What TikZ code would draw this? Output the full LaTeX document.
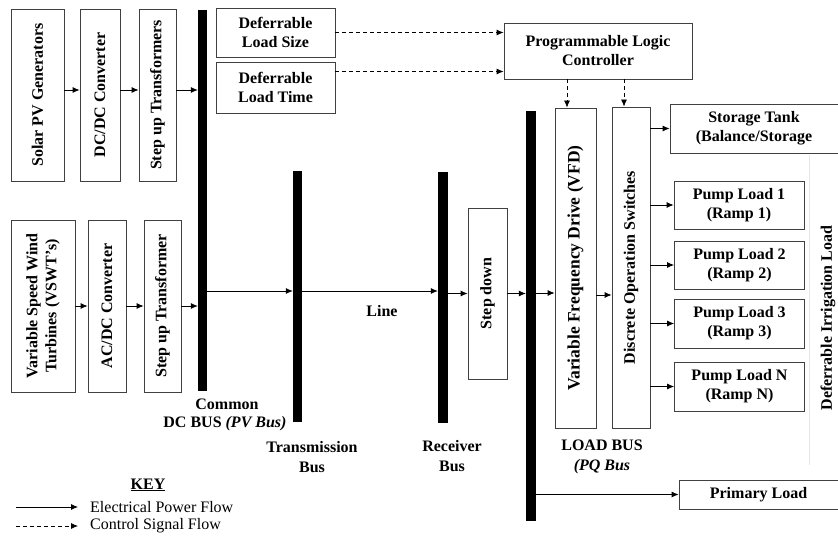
\documentclass[tikz,border=0pt]{standalone}
\usepackage{fontspec}
\setmainfont{Liberation Serif}
\usetikzlibrary{arrows.meta,calc}
\begin{document}
\begin{tikzpicture}[x=1pt,y=-1pt,
 box/.style={draw=black!75,line width=0.8pt,inner sep=0pt,align=center,font=\fontsize{16}{19}\selectfont\bfseries},
 bus/.style={fill=black,draw=none,inner sep=0pt,minimum width=9.5pt},
 pf/.style={-{Latex[length=7pt,width=6pt]},line width=0.8pt},
 cf/.style={pf,dash pattern=on 4pt off 3pt},
 lbl/.style={font=\fontsize{16}{20}\selectfont\bfseries,align=center,inner sep=0pt},
 keytxt/.style={font=\fontsize{16}{19}\selectfont,anchor=west,inner sep=0pt}]
\useasboundingbox (0,0) rectangle (838,537);

% faint guide line
\draw[black!10,line width=0.8pt] (809,155) -- (809,465);

% generation side
\node[box,minimum width=53pt,minimum height=172pt] (solar) at (37.5,95) {\rotatebox{90}{Solar PV Generators}};
\node[box,minimum width=40pt,minimum height=172pt] (dcdc) at (100,95) {\rotatebox{90}{DC/DC Converter}};
\node[box,minimum width=37pt,minimum height=172pt] (stt1) at (157.5,95) {\rotatebox{90}{Step up Transformers}};
\node[box,minimum width=64pt,minimum height=172pt] (wind) at (43,306) {\rotatebox{90}{\begin{tabular}{@{}c@{}}Variable Speed Wind\\Turbines (VSWT's)\end{tabular}}};
\node[box,minimum width=38pt,minimum height=172pt] (acdc) at (107,306) {\rotatebox{90}{AC/DC Converter}};
\node[box,minimum width=37pt,minimum height=172pt] (stt2) at (162.5,306) {\rotatebox{90}{Step up Transformer}};

% buses
\node[bus,minimum width=9pt,minimum height=381pt] (dcbus) at (202.5,200.5) {};
\node[bus,minimum width=9pt,minimum height=251pt] (tbus) at (297.5,296.5) {};
\node[bus,minimum width=10pt,minimum height=251pt] (rbus) at (443,297.5) {};
\node[bus,minimum width=10pt,minimum height=410pt] (lbus) at (531,316) {};

% middle / load side
\node[box,minimum width=39pt,minimum height=171pt] (stepdown) at (487.5,293.5) {\rotatebox{90}{Step down}};
\node[box,minimum width=41pt,minimum height=320pt] (vfd) at (575.5,268) {\rotatebox{90}{\fontsize{17.5}{20}\selectfont Variable Frequency Drive (VFD)}};
\node[box,minimum width=38pt,minimum height=321pt] (dos) at (631,267.5) {\rotatebox{90}{Discrete Operation Switches}};
\node[box,minimum width=188pt,minimum height=56pt] (plc) at (598,51) {Programmable Logic\\Controller};
\node[box,minimum width=119pt,minimum height=49pt] (size) at (275.5,32.5) {Deferrable\\Load Size};
\node[box,minimum width=119pt,minimum height=51pt] (time) at (275.5,87.5) {Deferrable\\Load Time};
\node[box,minimum width=168pt,minimum height=49pt] (storage) at (754,128.5) {Storage Tank\\(Balance/Storage};
\node[box,minimum width=130pt,minimum height=48pt] (pump1) at (739,205) {Pump Load 1\\(Ramp 1)};
\node[box,minimum width=130pt,minimum height=48pt] (pump2) at (739.5,265) {Pump Load 2\\(Ramp 2)};
\node[box,minimum width=130pt,minimum height=49pt] (pump3) at (739.5,323.5) {Pump Load 3\\(Ramp 3)};
\node[box,minimum width=130pt,minimum height=49pt] (pumpN) at (739.5,386.5) {Pump Load N\\(Ramp N)};
\node[box,minimum width=159pt,minimum height=29pt] (prim) at (758.5,494.5) {Primary Load};

% labels
\node[lbl] (common) at (227,404) {Common};
\node[lbl] (dcbuslbl) at (225,424) {DC BUS \textit{(PV Bus)}};
\node[lbl] (tbuslbl) at (312,457) {Transmission\\Bus};
\node[lbl] (rbuslbl) at (452,456) {Receiver\\Bus};
\node[lbl] (lbuslbl) at (602,457) {LOAD BUS\\\textit{(PQ Bus}};
\node[lbl] (linelbl) at (382,311) {Line};
\node[lbl] (dil) at (828,318) {\rotatebox{90}{Deferrable Irrigation Load}};

% power flow
\draw[pf] ([yshift=5pt]solar.east) -- ([yshift=5pt]dcdc.west);
\draw[pf] ([yshift=5pt]dcdc.east) -- ([yshift=5pt]stt1.west);
\draw[pf] ([yshift=5pt]stt1.east) -- ([yshift=5pt]stt1.east -| dcbus.west);
\draw[pf] (wind.east) -- (acdc.west);
\draw[pf] (acdc.east) -- (stt2.west);
\draw[pf] (stt2.east) -- (stt2.east -| dcbus.west);
\coordinate (ml) at (0,291);
\draw[pf] (dcbus.east |- ml) -- (tbus.west |- ml);
\draw[pf] (tbus.east |- ml) -- (rbus.west |- ml);
\draw[pf] (rbus.east |- stepdown) -- (stepdown.west);
\draw[pf] (stepdown.east) -- (stepdown.east -| lbus.west);
\coordinate (vl) at (0,293);
\draw[pf] (lbus.east |- vl) -- (vfd.west |- vl);
\coordinate (dl) at (0,295);
\draw[pf] (vfd.east |- dl) -- (dos.west |- dl);
\draw[pf] (dos.east |- storage) -- (storage.west);
\draw[pf] (dos.east |- pump1) -- (pump1.west);
\draw[pf] (dos.east |- pump2) -- (pump2.west);
\draw[pf] (dos.east |- pump3) -- (pump3.west);
\draw[pf] (dos.east |- pumpN) -- (pumpN.west);
\draw[pf] (lbus.east |- prim) -- (prim.west);

% control flow
\draw[cf] (size.east) -- (size.east -| plc.west);
\draw[cf] ([yshift=16pt]time.east) -- ([yshift=16pt]time.east -| plc.west);
\draw[cf] ([xshift=-8.5pt]vfd.north |- plc.south) -- ([xshift=-8.5pt]vfd.north);
\draw[cf] ([xshift=-7pt]dos.north |- plc.south) -- ([xshift=-7pt]dos.north);

% key
\node[lbl] (key) at (148,485) {\underline{KEY}};
\node[keytxt] (k1) at (90,507) {Electrical Power Flow};
\node[keytxt] (k2) at (90,526) {Control Signal Flow};
\coordinate (k1s) at (16,507);
\coordinate (k2s) at (16,526);
\draw[pf] (k1s) -- ([xshift=-12pt]k1.west);
\draw[cf] (k2s) -- ([xshift=-12pt]k2.west);
\end{tikzpicture}
\end{document}
